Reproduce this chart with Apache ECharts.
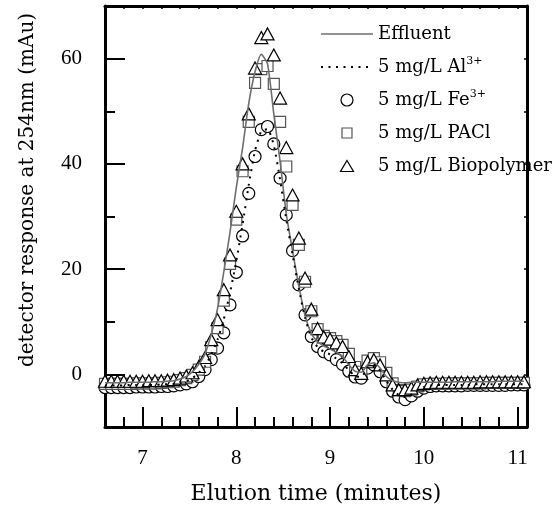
<!DOCTYPE html>
<html><head><meta charset="utf-8">
<script src="https://cdn.jsdelivr.net/npm/echarts@6/dist/echarts.min.js"></script>
<style>html,body{margin:0;padding:0;background:#fff}#c{width:554px;height:519px}</style>
</head><body><div id="c"></div>
<script>
// Elution times (minutes), sampled every 4 s
const times = [6.600,6.667,6.733,6.800,6.867,6.933,7.000,7.067,7.133,7.200,7.267,7.333,
  7.400,7.467,7.533,7.600,7.667,7.733,7.800,7.867,7.933,
  8.000,8.067,8.133,8.200,8.267,8.333,8.400,8.467,8.533,8.600,8.667,8.733,8.800,8.867,8.933,
  9.000,9.067,9.133,9.200,9.267,9.333,9.400,9.467,9.533,9.600,9.667,9.733,9.800,9.867,9.933,10.000,
  10.067,10.133,10.200,10.267,10.333,10.400,10.467,10.533,10.600,10.667,10.733,10.800,10.867,10.933,11.000,11.067];

const effluent = [-1.6,-1.6,-1.6,-1.6,-1.5,-1.5,-1.5,-1.5,-1.4,-1.4,-1.3,-1.2,
  -0.9,-0.4,0.5,1.9,3.9,7.6,12.5,19.5,27.0,
  35.5,43.0,51.5,57.5,60.8,59.0,49.5,40.5,30.5,23.5,16.8,11.2,7.8,6.2,5.4,
  4.8,4.2,3.4,1.8,0.6,0.4,1.8,2.2,1.2,-0.4,-1.2,-1.5,-1.6,-1.5,-1.5,-1.5,
  -1.5,-1.5,-1.5,-1.5,-1.4,-1.4,-1.4,-1.4,-1.4,-1.4,-1.4,-1.3,-1.3,-1.3,-1.3,-1.3];

const al3 = [-2.1,-2.1,-2.1,-2.1,-2.0,-2.0,-2.0,-2.0,-2.0,-1.9,-1.9,-1.8,
  -1.7,-1.3,-0.7,0.3,1.6,3.8,6.6,10.5,15.5,
  21.5,28.5,36.0,42.5,46.2,46.6,43.5,37.0,29.5,22.8,16.3,10.8,7.0,5.2,4.3,
  3.8,3.0,2.1,0.8,-0.3,-0.5,1.3,1.9,0.7,-1.2,-2.9,-3.9,-4.3,-3.8,-3.0,-2.4,
  -2.1,-2.0,-2.0,-2.0,-2.0,-2.0,-2.0,-1.9,-1.9,-1.9,-1.9,-1.9,-1.9,-1.9,-1.9,-1.9];

const fe3 = [-2.5,-2.5,-2.5,-2.5,-2.5,-2.4,-2.4,-2.4,-2.4,-2.3,-2.3,-2.2,
  -2.0,-1.8,-1.4,-0.4,0.9,2.8,5.0,7.9,13.2,
  19.4,26.3,34.4,41.4,46.5,47.1,43.8,37.3,30.3,23.5,17.0,11.3,7.2,5.3,4.3,
  3.7,2.8,1.9,0.6,-0.5,-0.7,1.2,1.8,0.5,-1.4,-3.2,-4.3,-4.8,-4.1,-3.2,-2.6,
  -2.3,-2.2,-2.2,-2.2,-2.2,-2.2,-2.1,-2.1,-2.1,-2.1,-2.1,-2.1,-2.1,-2.0,-2.0,-2.0];

const pacl = [-1.8,-1.8,-1.8,-1.8,-1.8,-1.7,-1.7,-1.7,-1.7,-1.6,-1.5,-1.4,
  -1.1,-0.7,-0.1,0.9,2.4,5.2,8.8,14.0,21.0,
  29.4,38.6,48.0,55.4,58.0,58.6,55.2,48.0,39.5,32.2,24.6,17.6,12.0,8.6,7.3,
  6.9,6.3,5.6,3.9,1.4,0.5,2.6,3.1,2.3,0.3,-1.7,-3.0,-3.2,-2.9,-2.3,-1.9,
  -1.8,-1.8,-1.8,-1.7,-1.7,-1.7,-1.7,-1.7,-1.7,-1.6,-1.6,-1.6,-1.6,-1.6,-1.6,-1.6];

const biopolymer = [-1.3,-1.3,-1.3,-1.3,-1.3,-1.3,-1.3,-1.2,-1.2,-1.2,-1.1,-1.0,
  -0.7,-0.3,0.3,1.5,3.2,6.6,10.4,16.1,22.7,
  31.0,40.0,49.5,58.2,64.0,64.7,60.7,52.5,43.1,34.1,25.9,18.3,12.4,8.7,7.1,
  6.7,6.0,5.3,3.4,0.9,0.2,2.4,2.8,1.8,-0.1,-2.0,-2.9,-2.9,-2.6,-2.0,-1.7,
  -1.6,-1.5,-1.5,-1.5,-1.5,-1.5,-1.5,-1.5,-1.4,-1.4,-1.4,-1.4,-1.4,-1.4,-1.4,-1.4];

const seriesNames = ['Effluent','5 mg/L Al3+','5 mg/L Fe3+','5 mg/L PACl','5 mg/L Biopolymer'];
const xTickLabels = [7, 8, 9, 10, 11];
const yTickLabels = [0, 20, 40, 60];

const pairs = vals => times.map((t, i) => [t, vals[i]]);
const frame = {show: true, onZero: false, lineStyle: {color: '#000', width: 3}};
const noLine = {show: false, onZero: false};
const tickFont = {color: '#000', fontFamily: 'Liberation Serif', fontSize: 21};
const serif = 'DejaVu Serif';
const near = (v, list) => list.some(x => Math.abs(x - v) < 1e-6);
const hiddenSymbol = {color: 'rgba(0,0,0,0)', borderWidth: 0, borderColor: 'rgba(0,0,0,0)'};
// legend icon shapes padded to the 52x12 legend icon box so they keep their aspect
const squareIcon = 'path://M0,0M52,12M21,1H31V11H21Z';
const triangleIcon = 'path://M0,0M52,12M26,0.5L32.5,11.5L19.5,11.5Z';

const chart = echarts.init(document.getElementById('c'), null, {renderer: 'canvas'});
chart.setOption({
  animation: false,
  backgroundColor: '#fff',
  grid: {left: 105, top: 6, right: 27, bottom: 92},
  xAxis: [
    {type: 'value', position: 'bottom', min: 6.6, max: 11.1, splitNumber: 4,
     axisLine: frame, splitLine: {show: false},
     axisTick: {inside: true, length: 20, lineStyle: {color: '#000', width: 2}},
     axisLabel: Object.assign({margin: 21, formatter: v => near(v, xTickLabels) ? String(Math.round(v)) : ''}, tickFont),
     name: 'Elution time (minutes)', nameLocation: 'middle', nameGap: 56,
     nameTextStyle: {color: '#000', fontFamily: serif, fontSize: 22}},
    {type: 'value', position: 'bottom', min: 6.6, max: 11.1, interval: 0.2,
     axisLine: noLine, splitLine: {show: false}, axisLabel: {show: false},
     axisTick: {inside: true, length: 10, lineStyle: {color: '#000', width: 2}}},
    {type: 'value', position: 'top', min: 6.6, max: 11.1, interval: 0.2,
     axisLine: frame, splitLine: {show: false}, axisLabel: {show: false},
     axisTick: {inside: true, length: 3, lineStyle: {color: '#000', width: 1.5}}}
  ],
  yAxis: [
    {type: 'value', position: 'left', min: -10, max: 70, splitNumber: 4,
     axisLine: frame, splitLine: {show: false},
     axisTick: {inside: true, length: 20, lineStyle: {color: '#000', width: 2}},
     axisLabel: Object.assign({margin: 23, formatter: v => near(v, yTickLabels) ? String(Math.round(v)) : ''}, tickFont)},
    {type: 'value', position: 'left', min: -10, max: 70, interval: 10,
     axisLine: noLine, splitLine: {show: false}, axisLabel: {show: false},
     axisTick: {inside: true, length: 10, lineStyle: {color: '#000', width: 2}}},
    {type: 'value', position: 'right', min: -10, max: 70, interval: 10,
     axisLine: frame, splitLine: {show: false}, axisLabel: {show: false},
     axisTick: {inside: true, length: 3, lineStyle: {color: '#000', width: 1.5}}}
  ],
  legend: {
    orient: 'vertical', left: 315, top: 18, itemWidth: 52, itemHeight: 12, itemGap: 11,
    selectedMode: false, symbolKeepAspect: true,
    itemStyle: {borderWidth: 1.2},
    data: [
      {name: seriesNames[0], itemStyle: hiddenSymbol, lineStyle: {width: 1.7}},
      {name: seriesNames[1], itemStyle: hiddenSymbol, lineStyle: {width: 2}},
      {name: seriesNames[2]},
      {name: seriesNames[3], icon: squareIcon, itemStyle: {borderColor: '#555', color: '#fff'}},
      {name: seriesNames[4], icon: triangleIcon, itemStyle: {borderColor: '#000', color: '#fff'}}
    ],
    formatter: n => n.replace(/3\+$/, '{sup|3+}'),
    textStyle: {color: '#000', fontFamily: serif, fontSize: 18, lineHeight: 22,
      rich: {sup: {fontFamily: serif, fontSize: 11, lineHeight: 11, verticalAlign: 'top', color: '#000'}}}
  },
  graphic: [{
    type: 'text', x: 28, y: 190, rotation: Math.PI / 2,
    style: {text: 'detector response at 254nm (mAu)', fill: '#000', fontFamily: serif, fontSize: 20,
            align: 'center', verticalAlign: 'middle'}
  }],
  series: [
    {name: seriesNames[0], type: 'line', data: pairs(effluent), symbol: 'none', smooth: 0.2,
     lineStyle: {color: '#6e6e6e', width: 1.6}, itemStyle: {color: '#6e6e6e'}},
    {name: seriesNames[1], type: 'line', data: pairs(al3), symbol: 'none', smooth: 0.2,
     lineStyle: {color: '#000', width: 2, type: [2, 5.5]}, itemStyle: {color: '#000'}},
    {name: seriesNames[2], type: 'scatter', data: pairs(fe3), symbol: 'circle', symbolSize: 12,
     itemStyle: {color: '#fff', borderColor: '#000', borderWidth: 1.2, opacity: 1}},
    {name: seriesNames[3], type: 'scatter', data: pairs(pacl), symbol: 'rect', symbolSize: 11,
     itemStyle: {color: '#fff', borderColor: '#555', borderWidth: 1.2, opacity: 1}},
    {name: seriesNames[4], type: 'scatter', data: pairs(biopolymer), symbol: 'triangle', symbolSize: [13, 12],
     itemStyle: {color: '#fff', borderColor: '#000', borderWidth: 1.2, opacity: 1}}
  ]
});
</script></body></html>
